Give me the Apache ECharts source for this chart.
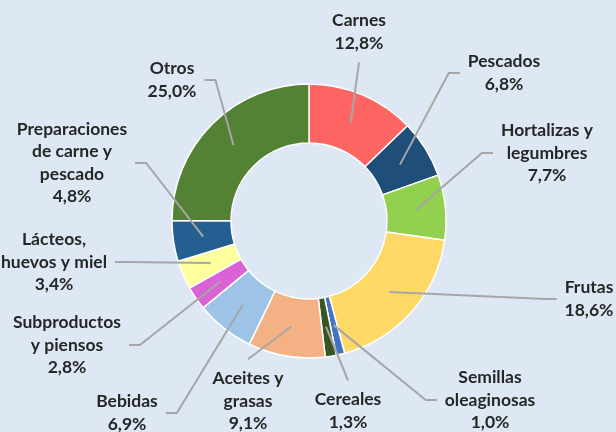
<!DOCTYPE html>
<html><head><meta charset="utf-8">
<script src="https://cdn.jsdelivr.net/npm/echarts@6/dist/echarts.min.js"></script>
<style>html,body{margin:0;padding:0;background:#dee8f4}#c{width:616px;height:432px}</style>
</head><body><div id="c"></div>
<script>
const categories = ['Carnes','Pescados','Hortalizas y\nlegumbres','Frutas','Semillas\noleaginosas','Cereales','Aceites y\ngrasas','Bebidas','Subproductos\ny piensos','Lácteos,\nhuevos y miel','Preparaciones\nde carne y\npescado','Otros'];
const shares = [12.8, 6.8, 7.7, 18.6, 1.0, 1.3, 9.1, 6.9, 2.8, 3.4, 4.8, 25.0];
const colors = ['#FF6563','#1F4E79','#92D050','#FFD966','#4472C4','#375623','#F4B183','#9DC3E6','#DA62D6','#FFFF9E','#255E91','#548235'];
// label block centres (layout) and the side where each leader line meets its label
const labelPos = [[359,32],[504,73],[547,153],[589,299],[490,400],[348,411],[248,401],[127,413],[67,345],[54,262],[72,163],[172,80]];
const lineSide = ['bottom','left','left','left','left','top','top','right','right','right','right','right'];

const fmt = v => v.toFixed(1).replace('.', ',') + '%';
const data = categories.map((n, i) => ({ name: n, value: shares[i], itemStyle: { color: colors[i] } }));

const chart = echarts.init(document.getElementById('c'), null, { renderer: 'canvas' });
chart.setOption({
  backgroundColor: '#dee8f4',
  animation: false,
  series: [
    {
      type: 'pie', silent: true, z: 2,
      center: [309, 221], radius: [78, 137],
      startAngle: 90, clockwise: true, avoidLabelOverlap: false,
      label: { show: false }, labelLine: { show: false },
      itemStyle: { borderColor: '#ffffff', borderWidth: 1.5 },
      emphasis: { disabled: true },
      data: data
    },
    {
      type: 'pie', silent: true, z: 3,
      center: [309, 221], radius: [0, 107],
      startAngle: 90, clockwise: true, avoidLabelOverlap: false,
      itemStyle: { color: 'rgba(0,0,0,0)', borderWidth: 0 },
      emphasis: { disabled: true },
      label: {
        show: true, position: 'outer', alignTo: 'none',
        fontFamily: 'Lato', fontWeight: 'bold', fontSize: 17.5, lineHeight: 22.5,
        color: '#262626', align: 'center',
        formatter: p => p.name + '\n' + fmt(p.value)
      },
      labelLine: { show: true, length: 10, length2: 10, smooth: false, lineStyle: { color: '#a6a6a6', width: 2 } },
      labelLayout: function (p) {
        const i = p.dataIndex;
        const x = labelPos[i][0], y = labelPos[i][1];
        const w = p.labelRect.width, h = p.labelRect.height;
        const start = p.labelLinePoints ? p.labelLinePoints[0] : [x, y];
        const gap = 8, seg = 11;
        let end, bend;
        switch (lineSide[i]) {
          case 'left': end = [x - w / 2 - gap, y]; bend = [end[0] - seg, y]; break;
          case 'right': end = [x + w / 2 + gap, y]; bend = [end[0] + seg, y]; break;
          case 'top': end = [x, y - h / 2 - gap]; bend = end; break;
          default: end = [x, y + h / 2 + gap]; bend = end;
        }
        return { x: x, y: y, align: 'center', verticalAlign: 'middle', labelLinePoints: [start, bend, end] };
      },
      data: categories.map((n, i) => ({ name: n, value: shares[i] }))
    }
  ]
});
</script></body></html>
